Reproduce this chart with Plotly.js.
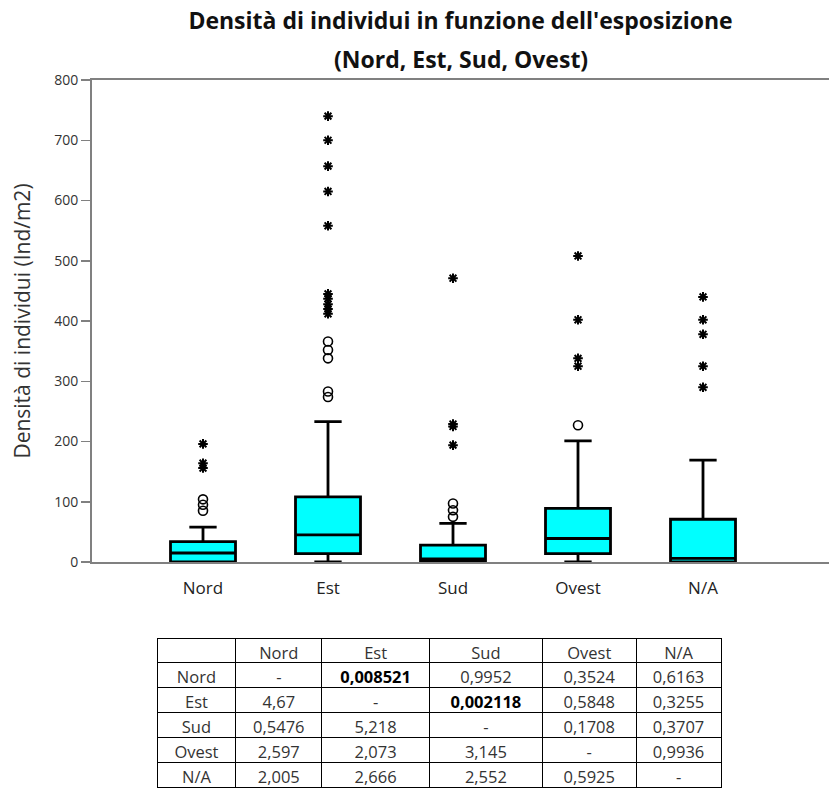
<!DOCTYPE html>
<html>
<head>
<meta charset="utf-8">
<script src="https://cdn.plot.ly/plotly-3.0.1.min.js"></script>
<style>html,body{margin:0;padding:0;background:#fff;}#chart{width:829px;height:790px;}</style>
</head>
<body>
<div id="chart"></div>
<script>
// ---- data ----
const categories = ['Nord', 'Est', 'Sud', 'Ovest', 'N/A'];
const q1Values = [0, 14, 0, 14, 0];
const medianValues = [15, 45, 5, 39, 6];
const q3Values = [34, 108, 28, 89, 71];
const lowerFenceValues = [0, 0, 0, 0, 0];
const upperFenceValues = [58, 233, 64, 201, 169];

const circleOutliers = {
  'Nord': [85, 95, 104],
  'Est': [274, 283, 338, 352, 366],
  'Sud': [75, 86, 97],
  'Ovest': [227],
  'N/A': []
};
const starOutliers = {
  'Nord': [156, 164, 196],
  'Est': [412, 420, 428, 437, 445, 558, 615, 657, 700, 740],
  'Sud': [194, 225, 229, 471],
  'Ovest': [325, 338, 402, 508],
  'N/A': [290, 325, 378, 402, 440]
};

const tableHeader = ['', 'Nord', 'Est', 'Sud', 'Ovest', 'N/A'];
const tableRowLabels = ['Nord', 'Est', 'Sud', 'Ovest', 'N/A'];
const tableColNord = ['-', '4,67', '0,5476', '2,597', '2,005'];
const tableColEst = ['0,008521', '-', '5,218', '2,073', '2,666'];
const tableColSud = ['0,9952', '0,002118', '-', '3,145', '2,552'];
const tableColOvest = ['0,3524', '0,5848', '0,1708', '-', '0,5925'];
const tableColNA = ['0,6163', '0,3255', '0,3707', '0,9936', '-'];
const boldCells = [[2, 0], [3, 1]]; // [table column index, row index]

// ---- build ----
function expand(obj) {
  const xs = [], ys = [];
  categories.forEach(c => (obj[c] || []).forEach(v => { xs.push(c); ys.push(v); }));
  return {xs, ys};
}
const circ = expand(circleOutliers);
const star = expand(starOutliers);

const tableCols = [tableRowLabels, tableColNord, tableColEst, tableColSud, tableColOvest, tableColNA];
const weights = tableCols.map(col => col.map(() => 'normal'));
const colors = tableCols.map(col => col.map(() => '#333'));
boldCells.forEach(([ci, ri]) => { weights[ci][ri] = 'bold'; colors[ci][ri] = '#000'; });

const traces = [
  {
    type: 'box',
    x: categories,
    q1: q1Values,
    median: medianValues,
    q3: q3Values,
    lowerfence: lowerFenceValues,
    upperfence: upperFenceValues,
    boxpoints: false,
    width: 0.52,
    whiskerwidth: 0.42,
    fillcolor: '#00FFFF',
    line: {color: '#000000', width: 2.8},
    showlegend: false,
    hoverinfo: 'skip'
  },
  {
    type: 'scatter',
    mode: 'markers',
    x: circ.xs,
    y: circ.ys,
    marker: {symbol: 'circle-open', size: 9, color: '#000', line: {color: '#000', width: 1.6}},
    showlegend: false,
    hoverinfo: 'skip'
  },
  {
    type: 'scatter',
    mode: 'markers',
    x: star.xs,
    y: star.ys,
    marker: {symbol: 'asterisk-open', size: 8, color: '#000', line: {color: '#111', width: 2}},
    showlegend: false,
    hoverinfo: 'skip'
  },
  {
    type: 'table',
    domain: {x: [0.0882, 0.8548], y: [0, 0.2127]},
    columnwidth: [79, 86, 108, 113, 94, 85],
    header: {
      values: tableHeader,
      align: 'center',
      height: 24,
      line: {color: '#000', width: 1},
      fill: {color: '#fff'},
      font: {family: 'Open Sans, sans-serif', size: 16.5, color: '#333'}
    },
    cells: {
      values: tableCols,
      align: 'center',
      height: 25,
      line: {color: '#000', width: 1},
      fill: {color: '#fff'},
      font: {family: 'Open Sans, sans-serif', size: 16.5, color: colors, weight: weights}
    }
  }
];

const titleFont = {family: 'Open Sans, sans-serif', size: 23, color: '#111', weight: 'bold'};
const layout = {
  width: 829,
  height: 790,
  paper_bgcolor: '#fff',
  plot_bgcolor: '#fff',
  margin: {l: 92, r: 0, t: 80, b: 0},
  showlegend: false,
  title: {
    text: "Densità di individui in funzione dell'esposizione",
    font: titleFont,
    x: 0.5, xref: 'paper', xanchor: 'center',
    y: 1 - 13 / 790, yref: 'container', yanchor: 'top'
  },
  annotations: [{
    text: '(Nord, Est, Sud, Ovest)',
    xref: 'paper', yref: 'paper', x: 0.5, y: 1, xanchor: 'center', yanchor: 'bottom',
    yshift: 3, showarrow: false,
    font: titleFont
  }],
  xaxis: {
    type: 'category',
    range: [-0.888, 5.008],
    showline: true, linecolor: '#808080', linewidth: 2, mirror: true,
    ticks: 'outside', ticklen: 10, tickcolor: 'rgba(0,0,0,0)',
    tickfont: {family: 'Open Sans, sans-serif', size: 17, color: '#222'},
    showgrid: false, zeroline: false
  },
  yaxis: {
    domain: [0.3211, 1],
    range: [0, 800],
    dtick: 100,
    showline: true, linecolor: '#808080', linewidth: 2,
    ticks: 'outside', ticklen: 9, tickcolor: '#808080', tickwidth: 1.5,
    tickfont: {family: 'Open Sans, sans-serif', size: 14, color: '#333'},
    showgrid: false, zeroline: false,
    title: {text: 'Densità di individui (Ind/m2)', standoff: 18,
      font: {family: 'Open Sans, sans-serif', size: 21, color: '#333'}}
  }
};

Plotly.newPlot('chart', traces, layout, {staticPlot: true, displayModeBar: false});
</script>
</body>
</html>
